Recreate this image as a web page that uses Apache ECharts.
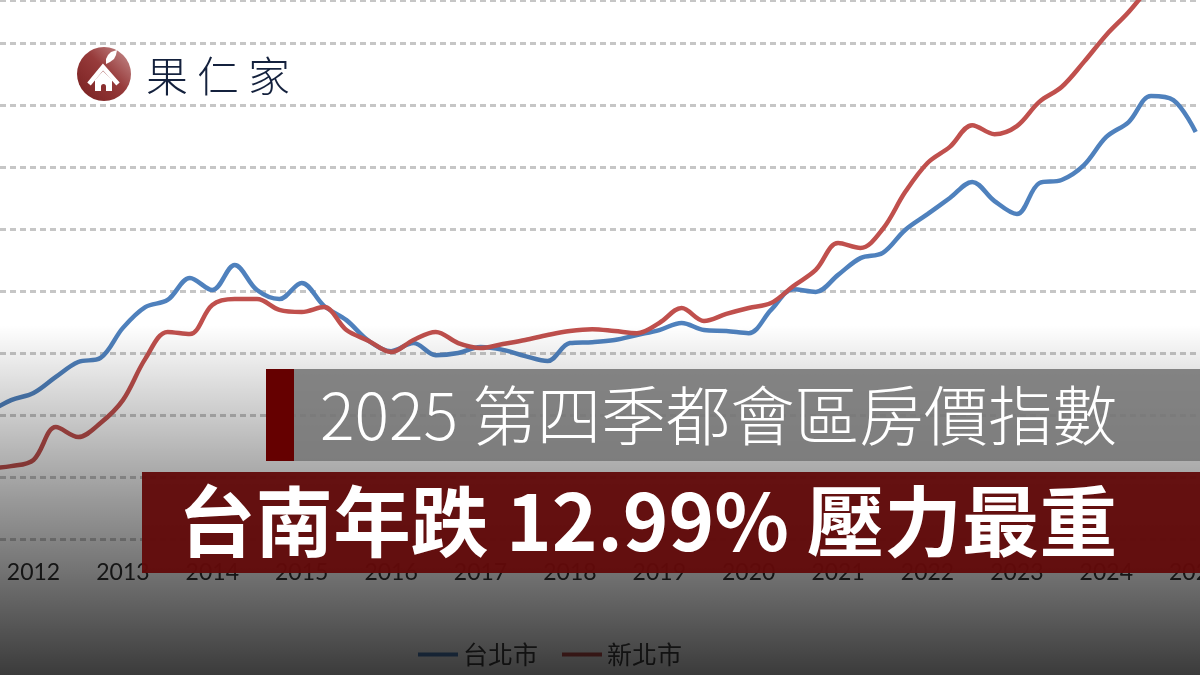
<!DOCTYPE html>
<html><head><meta charset="utf-8">
<script src="https://cdn.jsdelivr.net/npm/echarts@6/dist/echarts.min.js"></script>
<style>html,body{margin:0;padding:0;background:#fff;overflow:hidden}#c{width:1200px;height:675px}</style>
</head><body><div id="c"></div>
<script>
// Quarterly categories (visible part of the chart)
const quarters = ['2011Q3','2011Q4',
 '2012Q1','2012Q2','2012Q3','2012Q4','2013Q1','2013Q2','2013Q3','2013Q4',
 '2014Q1','2014Q2','2014Q3','2014Q4','2015Q1','2015Q2','2015Q3','2015Q4',
 '2016Q1','2016Q2','2016Q3','2016Q4','2017Q1','2017Q2','2017Q3','2017Q4',
 '2018Q1','2018Q2','2018Q3','2018Q4','2019Q1','2019Q2','2019Q3','2019Q4',
 '2020Q1','2020Q2','2020Q3','2020Q4','2021Q1','2021Q2','2021Q3','2021Q4',
 '2022Q1','2022Q2','2022Q3','2022Q4','2023Q1','2023Q2','2023Q3','2023Q4',
 '2024Q1','2024Q2','2024Q3','2024Q4','2025Q1'];
const yearTicks = [2012,2013,2014,2015,2016,2017,2018,2019,2020,2021,2022,2023,2024,2025];
const taipei = [200.9,204.8,207.1,212.3,217.1,218.4,228.1,234.8,237.1,244.2,
 240.3,248.4,240.3,237.4,242.6,235.2,230.6,223.9,220.6,223.2,
 219.3,220.0,221.9,221.0,219.0,217.4,223.2,223.5,224.2,225.8,
 227.4,229.7,227.4,227.1,226.4,233.9,240.6,239.7,245.2,250.6,
 252.3,259.7,264.8,270.0,275.2,269.0,264.8,274.8,275.8,280.6,
 289.7,294.5,302.9,301.6,291.3];
const newTaipei = [182.9,183.5,185.5,196.1,192.9,197.4,204.8,218.1,226.8,226.1,
 235.5,237.4,237.4,233.9,233.2,234.8,227.4,223.9,220.3,224.2,
 226.8,223.2,221.6,222.9,224.2,225.8,227.1,227.7,227.1,226.4,
 229.7,234.5,230.3,232.6,234.5,236.1,241.6,246.8,255.5,253.9,
 260.0,271.9,281.3,286.5,293.5,290.6,293.2,301.0,305.8,313.9,
 322.6,330.0,338.7,347.4,356.5];
const seriesNames = ['台北市','新北市'];
const headline1 = '2025 第四季都會區房價指數';
const headline2 = '台南年跌 12.99% 壓力最重';
const brandChars = ['果','仁','家'];

// visible window of the (cropped) original chart
const xView = [2011.6253, 2025.0481];
const yView = [160, 333.87];

function qx(q){ const y = parseInt(q.slice(0,4),10), n = parseInt(q.slice(5),10); return y + (n-1)*0.25; }
const pts = arr => arr.map((v,i)=>[qx(quarters[i]), v]);

const chart = echarts.init(document.getElementById('c'), null, {renderer:'canvas'});
const cjk = '"Noto Sans CJK TC","Noto Sans CJK SC",sans-serif';
chart.setOption({
  animation:false,
  backgroundColor:'#ffffff',
  grid:{left:0, right:0, top:0, bottom:136, containLabel:false, outerBoundsMode:'none'},
  xAxis:{type:'value', min:xView[0], max:xView[1], minInterval:1, maxInterval:1,
    axisLine:{show:false}, axisTick:{show:false}, splitLine:{show:false},
    axisLabel:{margin:22, fontSize:23, color:'#303030', fontFamily:'Lato, "Liberation Sans", sans-serif',
      showMinLabel:false, showMaxLabel:false,
      formatter:v => yearTicks.indexOf(Math.round(v*1000)/1000)>=0 ? String(Math.round(v)) : ''}},
  yAxis:{type:'value', min:yView[0], max:yView[1], interval:20,
    axisLine:{show:false}, axisTick:{show:false}, axisLabel:{show:false},
    splitLine:{show:true, lineStyle:{color:'#c6c6c6', width:3, type:[6,4]}}},
  legend:{left:413, top:637, itemWidth:40, itemHeight:4, itemGap:24, icon:'rect',
    textStyle:{fontSize:25, color:'#404040', fontFamily:cjk},
    data:seriesNames},
  series:[
    {name:seriesNames[0], type:'line', data:pts(taipei), smooth:0.35, symbol:'none',
     lineStyle:{width:4.5, color:'#4f81bd'}, itemStyle:{color:'#4f81bd'}},
    {name:seriesNames[1], type:'line', data:pts(newTaipei), smooth:0.35, symbol:'none',
     lineStyle:{width:4.5, color:'#c0504d'}, itemStyle:{color:'#c0504d'}}
  ],
  graphic:[
    {type:'rect', z:100, silent:true, shape:{x:0,y:325,width:1200,height:350},
     style:{fill:{type:'linear',x:0,y:0,x2:0,y2:1,colorStops:[
       {offset:0,color:'rgba(0,0,0,0)'},{offset:0.5,color:'rgba(0,0,0,0.4)'},{offset:1,color:'rgba(0,0,0,0.77)'}]}}},
    {type:'rect', z:110, shape:{x:266,y:369,width:934,height:92}, style:{fill:'rgba(120,120,120,0.9)'}},
    {type:'rect', z:111, shape:{x:266,y:369,width:28,height:92}, style:{fill:'#650000'}},
    {type:'rect', z:110, shape:{x:142,y:472,width:1058,height:101}, style:{fill:'rgba(98,10,10,0.96)'}},
    {type:'text', z:120, x:320, y:415, style:{text:headline1, fill:'#ffffff', fontSize:64.5, fontWeight:300,
      fontFamily:cjk, verticalAlign:'middle', align:'left'}},
    {type:'text', z:120, x:178, y:522, style:{text:headline2, fill:'#ffffff', fontSize:77.6, fontWeight:'bold',
      fontFamily:cjk, verticalAlign:'middle', align:'left'}},
    // logo
    {type:'circle', z:130, shape:{cx:104,cy:74,r:27}, style:{fill:{type:'linear',x:1,y:0,x2:0,y2:1,colorStops:[
      {offset:0,color:'#c99393'},{offset:0.45,color:'#973b3b'},{offset:1,color:'#761e1e'}]}}},
    {type:'polyline', z:131, shape:{points:[[89,84],[103,67],[118,84]]}, style:{stroke:'#ffffff', lineWidth:4.5, fill:null, lineJoin:'miter', lineCap:'butt'}},
    {type:'polygon', z:131, shape:{points:[[95,80],[103,71],[112,80],[112,91],[95,91]]}, style:{fill:'#ffffff'}},
    {type:'rect', z:132, shape:{x:101,y:84,width:5,height:7,r:[2.5,2.5,0,0]}, style:{fill:'#8a2f2f'}},
    {type:'polygon', z:131, shape:{points:[[106,64],[106,59],[108,55],[111,52],[117,50],[116,55],[114,59],[110,62]]}, style:{fill:'#ffffff'}},
    {type:'text', z:130, x:167, y:76, style:{text:brandChars[0], fill:'#14213d', fontSize:42, fontFamily:cjk, fontWeight:300, align:'center', verticalAlign:'middle'}},
    {type:'text', z:130, x:218, y:76, style:{text:brandChars[1], fill:'#14213d', fontSize:42, fontFamily:cjk, fontWeight:300, align:'center', verticalAlign:'middle'}},
    {type:'text', z:130, x:269, y:76, style:{text:brandChars[2], fill:'#14213d', fontSize:42, fontFamily:cjk, fontWeight:300, align:'center', verticalAlign:'middle'}}
  ]
});
</script></body></html>
